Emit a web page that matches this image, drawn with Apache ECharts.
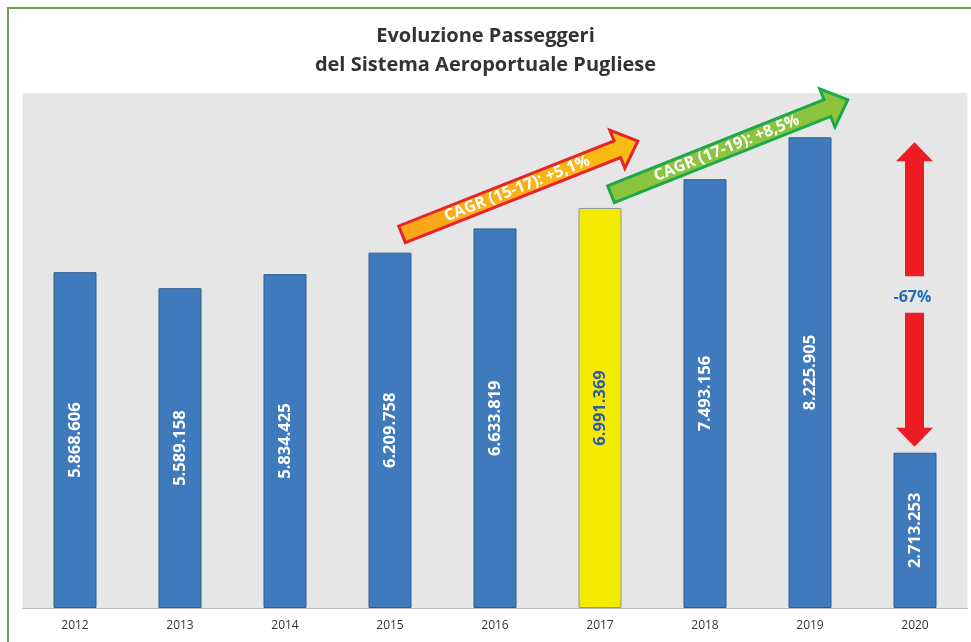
<!DOCTYPE html>
<html>
<head>
<meta charset="utf-8">
<script src="https://cdn.jsdelivr.net/npm/echarts@6/dist/echarts.min.js"></script>
<style>html,body{margin:0;padding:0;background:#fff;}#c{width:971px;height:642px;}</style>
</head>
<body>
<div id="c"></div>
<script>
const titleLines = ['Evoluzione Passeggeri', 'del Sistema Aeroportuale Pugliese'];
const categories = ['2012','2013','2014','2015','2016','2017','2018','2019','2020'];
const passengers = [5868606, 5589158, 5834425, 6209758, 6633819, 6991369, 7493156, 8225905, 2713253];
const highlightYear = '2017';
const cagrLabels = ['CAGR (15-17): +5,1%', 'CAGR (17-19): +8,5%'];
const dropLabel = '-67%';

const FONT = '"Open Sans", sans-serif';
function fmt(v){ return String(v).replace(/\B(?=(\d{3})+(?!\d))/g, '.'); }

const chart = echarts.init(document.getElementById('c'), null, {renderer:'canvas'});

const barData = passengers.map((v,i) => {
  const hl = categories[i] === highlightYear;
  return {
    value: v,
    itemStyle: hl ? {color:'#f5eb00', borderColor:'#8596a8', borderWidth:1}
                  : {color:'#3f7abd', borderColor:'#2d5e93', borderWidth:1},
    label: { color: hl ? '#2e5aa6' : '#ffffff' }
  };
});

chart.setOption({
  animation: false,
  backgroundColor: '#ffffff',
  title: {
    text: titleLines.join('\n'),
    left: 'center',
    top: 17,
    textStyle: { fontFamily: FONT, fontWeight: 'bold', fontSize: 20, color: '#333333', lineHeight: 29 }
  },
  grid: { left: 22.5, width: 945, top: 93, height: 515, show: true, backgroundColor: '#e6e6e6', borderWidth: 0 },
  xAxis: {
    type: 'category',
    data: categories,
    axisLine: { show: true, lineStyle: { color: '#bdbdbd', width: 1 } },
    axisTick: { show: false },
    axisLabel: { fontFamily: FONT, fontSize: 12, color: '#333333', margin: 12 }
  },
  yAxis: {
    type: 'value', min: 0, max: 9000000,
    show: false, splitLine: { show: false }
  },
  series: [{
    type: 'bar',
    data: barData,
    barWidth: 43,
    label: {
      show: true, position: 'inside', rotate: 90,
      fontFamily: FONT, fontWeight: 'bold', fontSize: 16.5,
      formatter: p => fmt(p.value)
    }
  }]
});

function X(i){ return chart.convertToPixel({xAxisIndex:0}, categories[i]); }
function Y(v){ return chart.convertToPixel({yAxisIndex:0}, v); }
const band = X(1) - X(0);

function arrowPoints(tail, tip, w, hw, hl){
  const dx = tip[0]-tail[0], dy = tip[1]-tail[1];
  const L = Math.hypot(dx, dy);
  const ux = dx/L, uy = dy/L, nx = -uy, ny = ux;
  const bx = tip[0]-ux*hl, by = tip[1]-uy*hl;
  return [
    [tail[0]+nx*w/2, tail[1]+ny*w/2],
    [bx+nx*w/2, by+ny*w/2],
    [bx+nx*hw/2, by+ny*hw/2],
    [tip[0], tip[1]],
    [bx-nx*hw/2, by-ny*hw/2],
    [bx-nx*w/2, by-ny*w/2],
    [tail[0]-nx*w/2, tail[1]-ny*w/2]
  ];
}

const graphics = [];
// frame
graphics.push({ type:'rect', shape:{x:8, y:8, width:1000, height:700}, style:{fill:null, stroke:'#6f9f5a', lineWidth:2}, z:100 });

function cagrArrow(tail, tip, fill, stroke, text){
  graphics.push({ type:'polygon', shape:{points: arrowPoints(tail, tip, 18, 41, 22)},
    style:{fill: fill, stroke: stroke, lineWidth: 3, lineJoin:'miter'}, z:50 });
  const ang = Math.atan2(-(tip[1]-tail[1]), tip[0]-tail[0]);
  const L = Math.hypot(tip[0]-tail[0], tip[1]-tail[1]);
  const t = (L-22)/2 + 8;
  const cx = tail[0] + (tip[0]-tail[0])/L*t;
  const cy = tail[1] + (tip[1]-tail[1])/L*t;
  graphics.push({ type:'text', x: cx, y: cy, rotation: ang,
    style:{ text: text, fill:'#ffffff', font: 'bold 16px ' + FONT, align:'center', verticalAlign:'middle' }, z:51 });
}

// orange arrow 2015 -> 2017
cagrArrow([X(3)+band*0.115, Y(6530000)], [X(5)+band*0.36, Y(8160000)],
  new echarts.graphic.LinearGradient(0,0,1,0,[{offset:0,color:'#f9a51a'},{offset:1,color:'#fbbd14'}]), '#e8242a', cagrLabels[0]);
// green arrow 2017 -> 2019
cagrArrow([X(5)+band*0.105, Y(7230000)], [X(7)+band*0.36, Y(8880000)], '#8cc43f', '#1ea84c', cagrLabels[1]);

// red double arrow over 2020
const xc = X(8) - 0.5;
const yTop = Y(passengers[7]) + 5;
const yBot = Y(passengers[8]) - 6;
graphics.push({ type:'polygon', shape:{points: arrowPoints([xc, Y(passengers[7]) + 139], [xc, yTop], 19, 37, 19)}, style:{fill:'#ed1c24'}, z:50 });
graphics.push({ type:'polygon', shape:{points: arrowPoints([xc, Y(passengers[8]) - 140], [xc, yBot], 19, 37, 19)}, style:{fill:'#ed1c24'}, z:50 });
graphics.push({ type:'text', x: xc - 2, y: (Y(passengers[7]) + 139 + Y(passengers[8]) - 140)/2 + 3,
  style:{ text: dropLabel, fill:'#1f6fb8', font:'bold 16px ' + FONT, align:'center', verticalAlign:'middle' }, z:51 });

chart.setOption({ graphic: graphics });
</script>
</body>
</html>
